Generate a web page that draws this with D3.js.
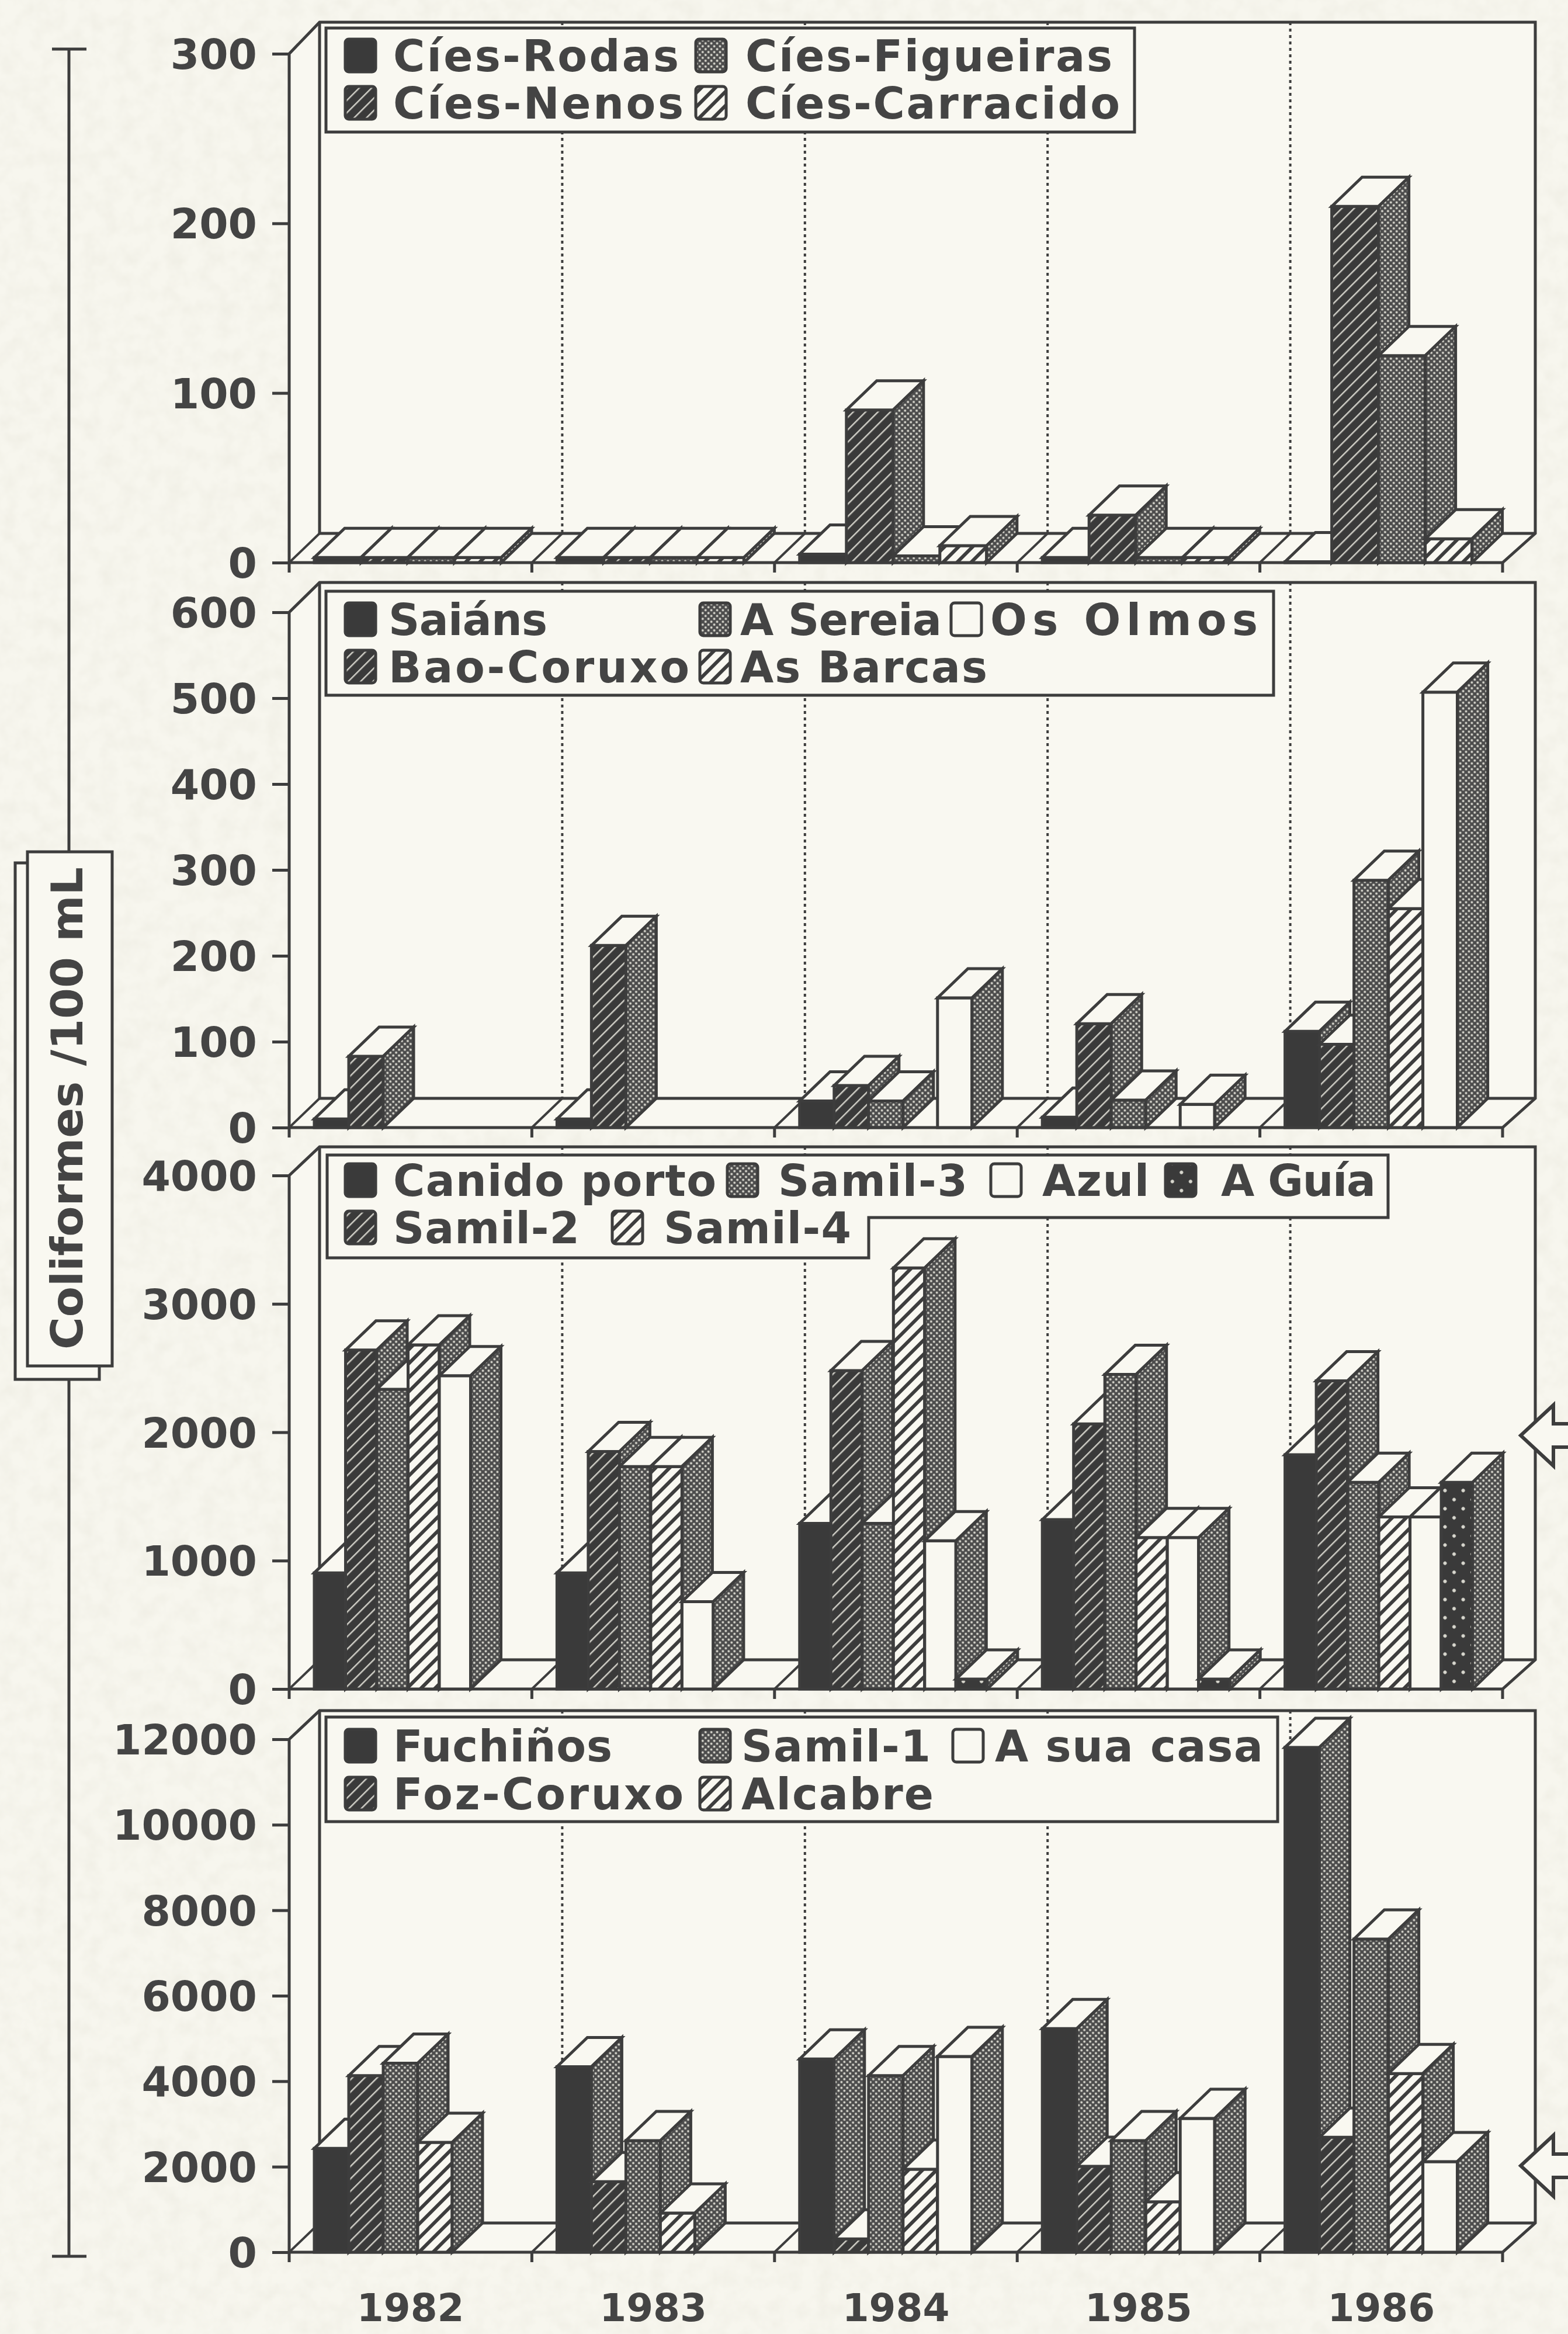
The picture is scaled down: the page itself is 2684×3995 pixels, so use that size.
<!DOCTYPE html>
<html>
<head>
<meta charset="utf-8">
<script src="https://cdn.jsdelivr.net/npm/d3@7"></script>
<style>
  html, body { margin: 0; padding: 0; background: #f7f6ee; }
  svg { display: block; }
  text { font-family: "DejaVu Sans", sans-serif; font-weight: bold; fill: #444; }
</style>
</head>
<body>
<script>
// values, one row per series, one entry per year
// null = no bar drawn at all
const years = ["1982", "1983", "1984", "1985", "1986"];

const names1 = ["Cíes-Rodas", "Cíes-Nenos", "Cíes-Figueiras", "Cíes-Carracido"];
const ticks1 = [0, 100, 200, 300];
const values1 = [
    [3, 3, 5, 3, 0.5],
    [3, 3, 90, 28, 210],
    [3, 3, 4, 3, 122],
    [3, 3, 10, 3, 14]
];

const names2 = ["Saiáns", "Bao-Coruxo", "A Sereia", "As Barcas", "Os Olmos"];
const ticks2 = [0, 100, 200, 300, 400, 500, 600];
const values2 = [
    [10, 10, 31, 12, 112],
    [83, 212, 49, 121, 97],
    [null, null, 31, 32, 288],
    [null, null, null, null, 255],
    [null, null, 151, 27, 507]
];

const names3 = ["Canido porto", "Samil-2", "Samil-3", "Samil-4", "Azul", "A Guía"];
const ticks3 = [0, 1000, 2000, 3000, 4000];
const values3 = [
    [905, 905, 1290, 1320, 1825],
    [2640, 1850, 2480, 2065, 2400],
    [2335, 1733, 1290, 2450, 1610],
    [2680, 1733, 3280, 1180, 1340],
    [2440, 680, 1155, 1180, 1340],
    [null, null, 77, 77, 1610]
];

const names4 = ["Fuchiños", "Foz-Coruxo", "Samil-1", "Alcabre", "A sua casa"];
const ticks4 = [0, 2000, 4000, 6000, 8000, 10000, 12000];
const values4 = [
    [2430, 4340, 4520, 5230, 11810],
    [4130, 1650, 310, 2010, 2690],
    [4420, 2610, 4130, 2610, 7325],
    [2570, 915, 1940, 1180, 4180],
    [null, null, 4580, 3130, 2120]
];

const yTitle = "Coliformes /100 mL";

// page geometry
const W = 2684, H = 3995;
const axisX = 495, endX = 2572, wallRight = 2628;
const depthX = 52, depthY = 50;
const ink = "#3d3d3d", paper = "#f9f8f1";

// fill of each series, by legend order
const fills1 = ["solid", "darkhatch", "dots", "lighthatch"];
const fills2 = ["solid", "darkhatch", "dots", "lighthatch", "white"];
const fills3 = ["solid", "darkhatch", "dots", "lighthatch", "white", "guia"];
const fills4 = ["solid", "darkhatch", "dots", "lighthatch", "white"];

// legend spots: swatch x, text x, row, text width
const panels = [
    {names: names1, values: values1, ticks: ticks1, fills: fills1, y0: 963, yTop: 92, wallTop: 38, slot: 80,
     box: [[558, 48], [1942, 48], [1942, 226], [558, 226]],
     rows: [122, 203],
     legend: [[591, 673, 0, 489], [591, 673, 1, 497], [1191, 1276, 0, 628], [1191, 1276, 1, 641]]},
    {names: names2, values: values2, ticks: ticks2, fills: fills2, y0: 1930, yTop: 1048, wallTop: 997, slot: 59,
     box: [[558, 1012], [2180, 1012], [2180, 1190], [558, 1190]],
     rows: [1087, 1168],
     legend: [[591, 665, 0, 272], [591, 665, 1, 515], [1198, 1267, 0, 345], [1198, 1267, 1, 423], [1628, 1695, 0, 458]]},
    {names: names3, values: values3, ticks: ticks3, fills: fills3, y0: 2891, yTop: 2012, wallTop: 1963, slot: 53.5,
     box: [[560, 1977], [2376, 1977], [2376, 2084], [1487, 2084], [1487, 2153], [560, 2153]],
     rows: [2047, 2128],
     legend: [[591, 673, 0, 553], [591, 673, 1, 319], [1245, 1332, 0, 324], [1048, 1136, 1, 321], [1696, 1784, 0, 183], [1995, 2090, 0, 265]]},
    {names: names4, values: values4, ticks: ticks4, fills: fills4, y0: 3855, yTop: 2977, wallTop: 2928, slot: 59,
     box: [[558, 2939], [2187, 2939], [2187, 3118], [558, 3118]],
     rows: [3015, 3097],
     legend: [[591, 673, 0, 375], [591, 673, 1, 497], [1198, 1269, 0, 324], [1198, 1269, 1, 329], [1631, 1703, 0, 459]]}
];

const svg = d3.select("body").append("svg")
    .attr("width", W)
    .attr("height", H)
    .attr("viewBox", [0, 0, W, H]);

const defs = svg.append("defs");

// paper grain of the scan
const grain = defs.append("filter").attr("id", "grain")
    .attr("x", 0).attr("y", 0).attr("width", "100%").attr("height", "100%");
grain.append("feTurbulence").attr("type", "fractalNoise").attr("baseFrequency", 0.035).attr("numOctaves", 3).attr("seed", 4);
grain.append("feColorMatrix").attr("values", "0 0 0 0 0.62  0 0 0 0 0.60  0 0 0 0 0.50  0 0 0 0.28 -0.10");

// hatch and dot fills
function hatch(id, bg, line, period, thick) {
    const p = defs.append("pattern").attr("id", id)
        .attr("patternUnits", "userSpaceOnUse")
        .attr("width", period).attr("height", period)
        .attr("patternTransform", "rotate(45)");
    p.append("rect").attr("width", period).attr("height", period).attr("fill", bg);
    p.append("rect").attr("width", thick).attr("height", period).attr("fill", line);
}
function dots(id, bg, dot, period, r) {
    const p = defs.append("pattern").attr("id", id)
        .attr("patternUnits", "userSpaceOnUse")
        .attr("width", period).attr("height", period)
        .attr("patternTransform", "rotate(45)");
    p.append("rect").attr("width", period).attr("height", period).attr("fill", bg);
    p.append("circle").attr("cx", period / 2).attr("cy", period / 2).attr("r", r).attr("fill", dot);
}
hatch("darkhatch", "#3a3a3a", "#cfcec6", 15, 2.5);
hatch("lighthatch", paper, "#3d3d3d", 17, 6);
dots("dots", "#4c4c4c", "#d4d3ca", 7, 2);
dots("guia", "#3a3a3a", "#d8d7ce", 22, 3);

function fillOf(key) {
    if (key === "solid") return "#3a3a3a";
    if (key === "white") return paper;
    return "url(#" + key + ")";
}

svg.append("rect").attr("width", W).attr("height", H).attr("fill", "#f7f6ee");
svg.append("rect").attr("width", W).attr("height", H).attr("filter", "url(#grain)");

const x = d3.scaleBand().domain(years).range([axisX, endX]);

panels.forEach(function (panel) {
    const y = d3.scaleLinear()
        .domain([0, d3.max(panel.ticks)])
        .range([panel.y0, panel.yTop]);
    const g = svg.append("g");
    const floorY = panel.y0 - depthY;
    const line = d3.line();

    // back wall and floor
    g.append("path")
        .attr("d", line([[axisX, panel.yTop], [axisX + depthX, panel.wallTop], [wallRight, panel.wallTop],
            [wallRight, floorY], [endX, panel.y0], [axisX, panel.y0], [axisX, panel.yTop]]))
        .attr("fill", paper).attr("stroke", ink).attr("stroke-width", 5);
    g.append("path")
        .attr("d", line([[axisX + depthX, panel.wallTop], [axisX + depthX, floorY], [wallRight, floorY]]))
        .attr("fill", "none").attr("stroke", ink).attr("stroke-width", 5);
    g.append("line")
        .attr("x1", axisX + depthX).attr("y1", floorY)
        .attr("x2", axisX).attr("y2", panel.y0)
        .attr("stroke", ink).attr("stroke-width", 4);

    // dotted year dividers on the wall, slashes on the floor, ticks under the axis
    years.forEach(function (yr, i) {
        const tx = x(yr);
        if (i > 0) {
            g.append("line")
                .attr("x1", tx + depthX).attr("x2", tx + depthX)
                .attr("y1", panel.wallTop).attr("y2", floorY)
                .attr("stroke", ink).attr("stroke-width", 4).attr("stroke-dasharray", "5 6");
            g.append("line")
                .attr("x1", tx).attr("y1", panel.y0)
                .attr("x2", tx + depthX).attr("y2", floorY)
                .attr("stroke", ink).attr("stroke-width", 4);
        }
    });
    x.domain().concat(["end"]).forEach(function (yr) {
        const tx = yr === "end" ? endX : x(yr);
        g.append("line")
            .attr("x1", tx).attr("x2", tx)
            .attr("y1", panel.y0).attr("y2", panel.y0 + 17)
            .attr("stroke", ink).attr("stroke-width", 5);
    });

    // y axis
    const axis = g.append("g")
        .attr("transform", "translate(" + axisX + ",0)")
        .call(d3.axisLeft(y).tickValues(panel.ticks).tickSize(29).tickPadding(26).tickFormat(d3.format("d")));
    axis.select(".domain").remove();
    axis.selectAll(".tick line").attr("stroke", ink).attr("stroke-width", 5);
    axis.selectAll(".tick text")
        .style("font-size", "71px")
        .attr("dy", "0.36em")
        .attr("fill", "#444");

    // legend
    g.append("path")
        .attr("d", line(panel.box) + "Z")
        .attr("fill", paper).attr("stroke", ink).attr("stroke-width", 5);
    panel.names.forEach(function (name, i) {
        const spot = panel.legend[i];
        const base = panel.rows[spot[2]];
        g.append("rect")
            .attr("x", spot[0]).attr("y", base - 55)
            .attr("width", 52).attr("height", 56).attr("rx", 6)
            .attr("fill", fillOf(panel.fills[i]))
            .attr("stroke", ink).attr("stroke-width", 5);
        g.append("text")
            .attr("x", spot[1]).attr("y", base)
            .attr("textLength", spot[3])
            .attr("lengthAdjust", "spacing")
            .style("font-size", "74px")
            .text(name);
    });

    // bars, painted left to right so a later bar covers the side of the one before
    const slotX = d3.scaleBand()
        .domain(panel.names)
        .range([43, 43 + panel.slot * panel.names.length]);

    years.forEach(function (yr, yi) {
        panel.names.forEach(function (name, si) {
            const v = panel.values[si][yi];
            if (v === null) return;
            const x0 = x(yr) + slotX(name);
            const x1 = x0 + slotX.bandwidth();
            const yv = y(v);

            g.append("path")
                .attr("d", line([[x0, yv], [x1, yv], [x1, panel.y0], [x0, panel.y0]]) + "Z")
                .attr("fill", fillOf(panel.fills[si]))
                .attr("stroke", ink).attr("stroke-width", 5);
            g.append("path")
                .attr("d", line([[x0, yv], [x0 + depthX, yv - depthY], [x1 + depthX, yv - depthY], [x1, yv]]) + "Z")
                .attr("fill", paper)
                .attr("stroke", ink).attr("stroke-width", 5);
            g.append("path")
                .attr("d", line([[x1, yv], [x1 + depthX, yv - depthY], [x1 + depthX, panel.y0 - depthY], [x1, panel.y0]]) + "Z")
                .attr("fill", "url(#dots)")
                .attr("stroke", ink).attr("stroke-width", 5);
        });
    });
});

// year labels under the last panel
svg.append("g")
    .attr("transform", "translate(0,3912)")
    .call(d3.axisBottom(x).tickSize(0).tickPadding(14))
    .call(function (a) { a.select(".domain").remove(); })
    .selectAll("text")
    .style("font-size", "66px")
    .attr("fill", "#444");

// long bracket of the y title
const bracket = svg.append("g").attr("stroke", ink).attr("stroke-width", 5).attr("fill", "none");
bracket.append("path").attr("d", d3.line()([[118, 84], [118, 3862]]));
bracket.append("path").attr("d", d3.line()([[89, 84], [148, 84]]));
bracket.append("path").attr("d", d3.line()([[89, 3862], [148, 3862]]));

// y title, a box with a second box behind it
const titleBox = svg.append("g");
titleBox.append("rect")
    .attr("x", 26).attr("y", 1477).attr("width", 144).attr("height", 884)
    .attr("fill", paper).attr("stroke", ink).attr("stroke-width", 5);
titleBox.append("rect")
    .attr("x", 47).attr("y", 1458).attr("width", 145).attr("height", 880)
    .attr("fill", paper).attr("stroke", ink).attr("stroke-width", 5);
titleBox.append("text")
    .attr("transform", "translate(141,2310) rotate(-90)")
    .attr("textLength", 826)
    .attr("lengthAdjust", "spacingAndGlyphs")
    .style("font-size", "74px")
    .text(yTitle);

// the two arrows at the right edge
const arrowYs = [2457, 3707];
const arrow = d3.line();
arrowYs.forEach(function (ay) {
    svg.append("path")
        .attr("d", arrow([[W + 10, ay - 20], [2659, ay - 20], [2659, ay - 52], [2603, ay],
            [2659, ay + 52], [2659, ay + 20], [W + 10, ay + 20]]))
        .attr("fill", paper).attr("stroke", ink).attr("stroke-width", 6);
});
</script>
</body>
</html>
